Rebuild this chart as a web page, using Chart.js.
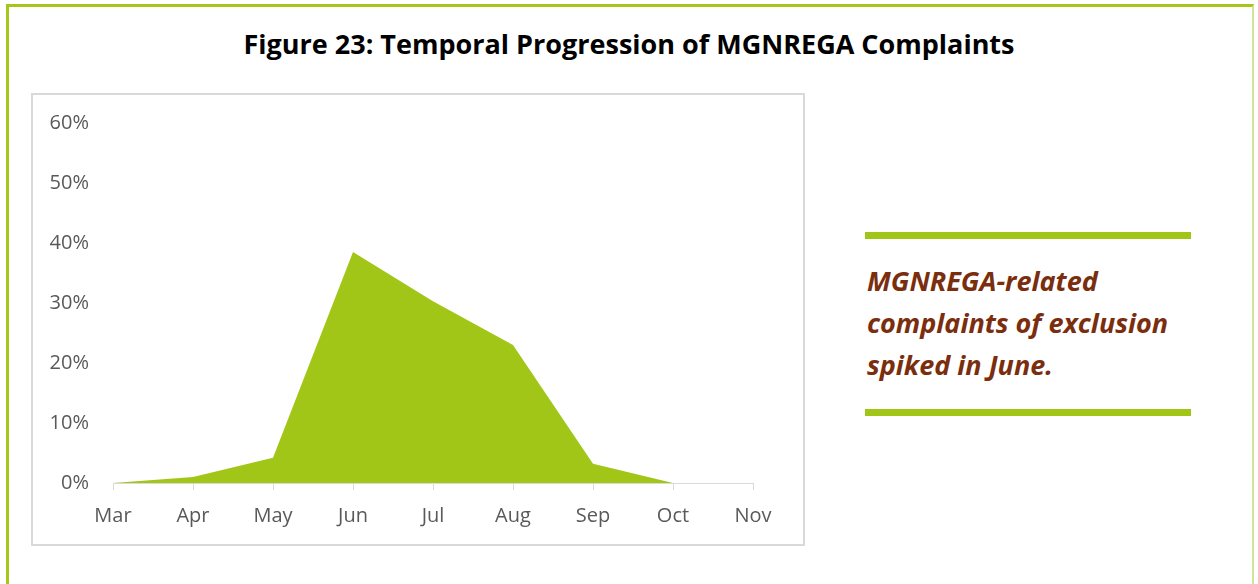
<!DOCTYPE html>
<html>
<head>
<meta charset="utf-8">
<script src="https://cdn.jsdelivr.net/npm/chart.js@4.4.1/dist/chart.umd.min.js"></script>
<style>
  html,body{margin:0;padding:0;background:#fff;width:1258px;height:584px;overflow:hidden}
  #frame{position:absolute;left:6px;top:4px;width:1248px;height:600px;border-left:3px solid #a5c61a;border-top:3px solid #a5c61a;border-right:2px solid #d3e39a;box-sizing:border-box}
  #title{position:absolute;left:0;width:1258px;top:25px;text-align:center;font:bold 27px "Open Sans",sans-serif;color:#000}
  #box{position:absolute;left:31px;top:93px;width:774px;height:453px;border:2px solid #d9d9d9;box-sizing:border-box}
  #box canvas{position:absolute;left:0;top:0}
  .bar{position:absolute;left:865px;width:326px;height:7px;background:#a2c617}
  #note{position:absolute;left:867px;top:260px;font:italic bold 27px "Open Sans",sans-serif;line-height:42px;color:#7a2e0e}
</style>
</head>
<body>
<div id="frame"></div>
<div id="title">Figure 23: Temporal Progression of MGNREGA Complaints</div>
<div id="box"><canvas id="c" width="770" height="449"></canvas></div>
<div class="bar" style="top:232px"></div>
<div id="note">MGNREGA-related<br>complaints of exclusion<br>spiked in June.</div>
<div class="bar" style="top:409px"></div>
<script>
// meses y % de quejas
const months=['Mar','Apr','May','Jun','Jul','Aug','Sep','Oct','Nov'];
const complaints=[0,1,4.2,38.5,30.3,23,3.2,0,null];
const yTicks=[0,10,20,30,40,50,60];

const tc='#595959', gc='#d9d9d9';
new Chart(document.getElementById('c').getContext('2d'),{
  type:'line',
  data:{labels:months,datasets:[
    {label:'Complaints',data:complaints,backgroundColor:'#a2c617',borderWidth:0,pointRadius:0,tension:0,fill:'origin'}
  ]},
  options:{responsive:false,animation:false,
    layout:{padding:{top:23,right:50,left:0,bottom:0}},
    plugins:{legend:{display:false},tooltip:{enabled:false}},
    scales:{
      x:{offset:false,grid:{display:true,drawOnChartArea:false,color:gc,tickLength:7,tickColor:gc},
         border:{display:true,color:gc,width:1},
         ticks:{color:tc,font:{family:'"Open Sans"',size:20},padding:14,maxRotation:0},
         afterFit:s=>{s.height=61;}},
      y:{min:0,max:60,grid:{display:false},border:{display:false},
         afterBuildTicks:s=>{s.ticks=yTicks.map(v=>({value:v}));},
         ticks:{color:tc,font:{family:'"Open Sans"',size:20},padding:16,callback:v=>v+'%'},
         afterFit:s=>{s.width=80;}}
    }}
});
</script>
</body>
</html>
